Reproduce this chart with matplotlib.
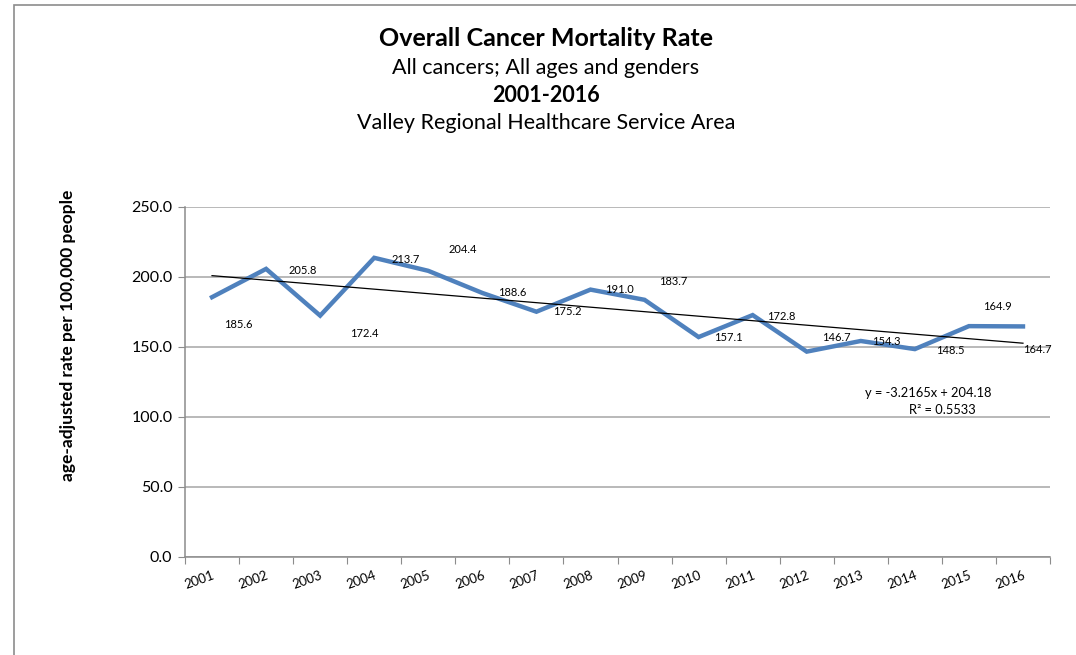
import matplotlib.pyplot as plt
import matplotlib.patches as mpatches

years = ["2001", "2002", "2003", "2004", "2005", "2006", "2007", "2008",
         "2009", "2010", "2011", "2012", "2013", "2014", "2015", "2016"]
rates = [185.6, 205.8, 172.4, 213.7, 204.4, 188.6, 175.2, 191.0,
         183.7, 157.1, 172.8, 146.7, 154.3, 148.5, 164.9, 164.7]
# data label offsets in pixels (dx, dy)
label_offsets = [(26, -27), (37, -2), (44, -18), (31, -2), (34, 21), (30, 0),
                 (31, 0), (29, 0), (29, 18), (30, 0), (29, -1), (30, 14),
                 (26, -1), (35, -1), (29, 20), (14, -23)]
slope, intercept, r2 = -3.2165, 204.18, 0.5533

plt.rcParams['font.family'] = ['Lato', 'DejaVu Sans']

fig = plt.figure(figsize=(10.76, 6.55), dpi=100)
ax = fig.add_axes([185 / 1076, 1 - 557 / 655, 865 / 1076, 350 / 655])

# chart border (cut off at the right and bottom of the picture)
fig.patches.append(mpatches.Rectangle((14 / 1076, -0.1), 1.2, 1 - 5 / 655 + 0.1,
                                      transform=fig.transFigure, fill=False,
                                      edgecolor='#8c8c8c', linewidth=1.2))

x = list(range(1, len(years) + 1))
ax.plot(x, rates, color='#4F81BD', linewidth=3.2, solid_joinstyle='miter', zorder=3)
trend = [slope * xi + intercept for xi in (x[0], x[-1])]
ax.plot([x[0], x[-1]], trend, color='black', linewidth=0.9, zorder=4)

for xi, v, (dx, dy) in zip(x, rates, label_offsets):
    ax.annotate(f"{v:.1f}", (xi, v), xytext=(dx, dy), textcoords='offset pixels',
                ha='center', va='center', fontsize=8, zorder=5)

ax.set_xlim(0.5, len(years) + 0.5)
ax.set_ylim(0, 250)
ax.set_yticks([0, 50, 100, 150, 200, 250])
ax.set_yticklabels([f"{t:.1f}" for t in [0, 50, 100, 150, 200, 250]], fontsize=11.5)
ax.yaxis.grid(True, color='#a6a6a6', linewidth=1.1)
ax.set_axisbelow(True)
ax.set_xticks([i + 0.5 for i in range(0, len(years) + 1)])
ax.set_xticklabels([])
ax.set_xticks(x, minor=True)
ax.set_xticklabels(years, minor=True, rotation=20, fontsize=9.5, ha='right',
                   va='top', rotation_mode='anchor')
ax.tick_params(axis='x', which='minor', length=0, pad=9)
ax.tick_params(axis='x', which='major', length=5, color='#8c8c8c')
ax.tick_params(axis='y', length=5, color='#8c8c8c', pad=4)
for s in ['top', 'right']:
    ax.spines[s].set_visible(False)
for s in ['left', 'bottom']:
    ax.spines[s].set_color('#8c8c8c')
    ax.spines[s].set_linewidth(1.1)

fig.text(68 / 1076, 1 - 335 / 655, "age-adjusted rate per 100,000 people", fontsize=12.5,
         fontweight='bold', rotation=90, ha='center', va='center')

fig.text(928 / 1076, 1 - 393 / 655, f"y = {slope}x + {intercept}",
         ha='center', va='center', fontsize=9.3)
fig.text(942 / 1076, 1 - 410 / 655, f"R² = {r2}",
         ha='center', va='center', fontsize=9.3)

fig.text(546 / 1076, 1 - 38 / 655, "Overall Cancer Mortality Rate", ha='center',
         va='center', fontsize=18, fontweight='bold')
fig.text(546 / 1076, 1 - 68 / 655, "All cancers; All ages and genders", ha='center',
         va='center', fontsize=15.5)
fig.text(546 / 1076, 1 - 96 / 655, "2001-2016", ha='center', va='center',
         fontsize=15.5, fontweight='bold')
fig.text(546 / 1076, 1 - 123 / 655, "Valley Regional Healthcare Service Area",
         ha='center', va='center', fontsize=15.5)

fig.savefig("out.png", dpi=100)
